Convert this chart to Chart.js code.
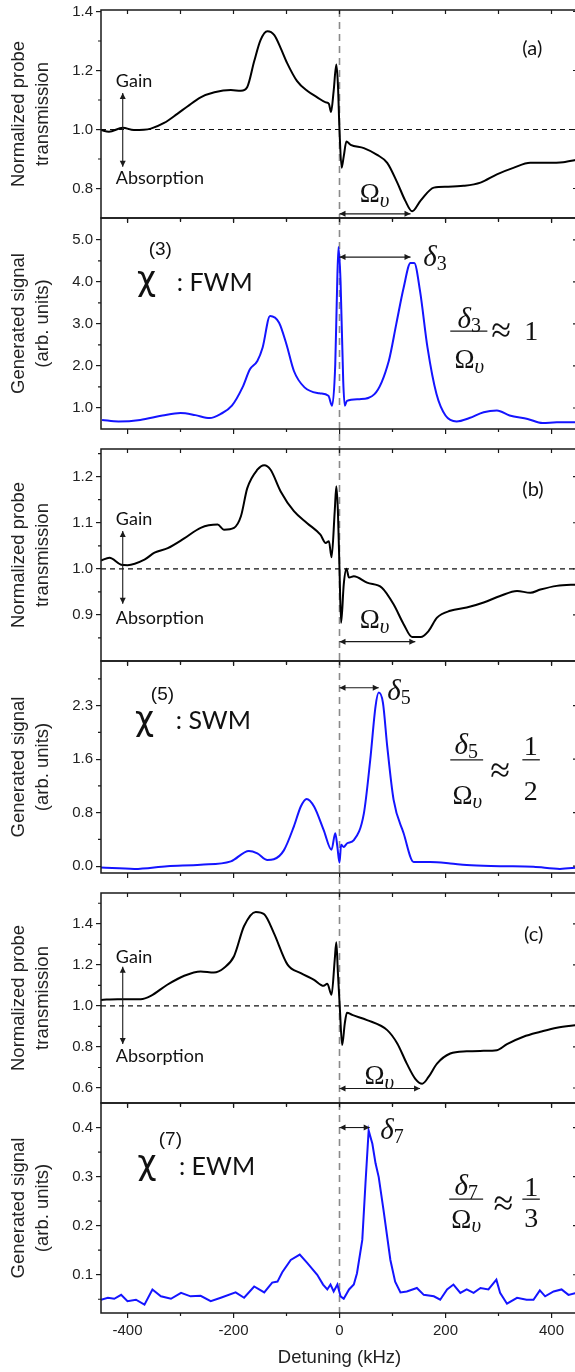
<!DOCTYPE html>
<html><head><meta charset="utf-8">
<script src="https://cdn.jsdelivr.net/npm/chart.js@4.4.1/dist/chart.umd.min.js"></script>
<style>
html,body{margin:0;padding:0;background:#fff;overflow:hidden;width:575px;height:1372px;position:relative;}
.p{position:absolute;left:0;width:580px;}
</style></head><body>
<div class="p" style="top:0px;height:228px"><canvas id="cA"></canvas></div>
<div class="p" style="top:208px;height:241px"><canvas id="cF"></canvas></div>
<div class="p" style="top:439px;height:232px"><canvas id="cB"></canvas></div>
<div class="p" style="top:651px;height:242px"><canvas id="cS"></canvas></div>
<div class="p" style="top:883px;height:230px"><canvas id="cC"></canvas></div>
<div class="p" style="top:1093px;height:279px"><canvas id="cE"></canvas></div>
<script>
// ---------------- data ----------------
const xTicks = [-400, -200, 0, 200, 400];
const xMinor = [-300, -100, 100, 300];
const refX = [-450, 450];
const refLevel = 1.0;

const detA = [-450,-435,-409,-388,-356,-331,-306,-287,-262,-236,-205,-186,-174,-161,-149,-136,-123,-111,-99,-80,-61,-42,-26,-20,-16,-11,-6,-3,0,4,8,13,21,46,71,90,109,124,137,153,178,203,234,266,297,328,360,391,422,450];
const transA = [0.998,0.992,1.006,0.998,1.003,1.022,1.053,1.078,1.109,1.126,1.134,1.131,1.144,1.231,1.303,1.333,1.320,1.276,1.226,1.164,1.131,1.109,1.092,1.087,1.059,1.131,1.220,1.153,0.998,0.870,0.909,0.959,0.948,0.937,0.914,0.887,0.820,0.759,0.723,0.759,0.803,0.806,0.809,0.820,0.848,0.870,0.887,0.887,0.889,0.898];

const detF = [-448,-417,-376,-334,-300,-272,-245,-224,-203,-183,-169,-155,-145,-131,-114,-100,-86,-66,-38,-21,-14,-8,-5,-2,2,7,10,14,38,66,93,107,121,134,141,152,166,183,200,221,245,272,297,321,355,383,410,450];
const sigF = [0.716,0.68,0.716,0.82,0.88,0.83,0.76,0.86,1.055,1.49,1.92,2.12,2.44,3.19,3.03,2.51,1.88,1.49,1.35,1.29,1.055,2.04,3.62,4.83,4.01,1.65,1.055,1.17,1.21,1.33,2.12,2.99,3.86,4.45,4.45,3.78,2.44,1.33,0.82,0.68,0.76,0.90,0.94,0.82,0.74,0.64,0.66,0.66];

const detB = [-450,-434,-412,-400,-368,-349,-324,-293,-262,-230,-218,-199,-186,-174,-155,-142,-130,-111,-86,-61,-36,-26,-20,-15,-9,-6,-3,0,3,8,13,18,27,52,80,102,121,137,153,168,184,209,240,272,303,335,360,379,410,450];
const transB = [1.018,1.024,1.009,1.008,1.020,1.035,1.045,1.066,1.089,1.096,1.085,1.089,1.114,1.175,1.215,1.225,1.215,1.168,1.125,1.099,1.074,1.056,1.060,1.025,1.125,1.179,1.125,0.999,0.883,0.966,1.0,0.981,0.984,0.970,0.959,0.923,0.880,0.852,0.852,0.865,0.894,0.909,0.916,0.927,0.941,0.952,0.948,0.955,0.963,0.966];

const detS = [-450,-387,-325,-262,-205,-171,-155,-136,-124,-105,-86,-73,-62,-48,-30,-15,-8,-4,0,3,8,14,27,46,58,68,74,82,90,102,121,140,171,209,240,303,366,416,450];
const sigS = [-0.02,-0.04,0,0.02,0.07,0.22,0.185,0.09,0.10,0.23,0.58,0.87,0.98,0.87,0.53,0.24,0.48,0.28,0.05,0.31,0.28,0.33,0.38,0.77,1.55,2.33,2.53,2.38,1.75,0.97,0.48,0.06,0.06,0.04,0.015,0,-0.01,-0.04,-0.02];

const detC = [-450,-419,-375,-356,-325,-293,-262,-237,-218,-199,-180,-158,-142,-124,-98,-73,-48,-30,-23,-15,-9,-6,-3,0.5,5,10,14,24,52,90,109,127,143,156,168,184,209,240,272,297,316,347,379,410,450];
const transC = [1.029,1.033,1.033,1.049,1.103,1.147,1.168,1.163,1.185,1.242,1.389,1.458,1.446,1.356,1.201,1.160,1.127,1.098,1.108,1.054,1.225,1.310,1.160,0.997,0.809,0.915,0.967,0.956,0.931,0.882,0.817,0.719,0.645,0.621,0.654,0.719,0.768,0.779,0.781,0.784,0.814,0.850,0.874,0.894,0.907];

const detE = [-450,-437,-425,-412,-400,-384,-368,-353,-337,-318,-299,-281,-262,-243,-224,-196,-180,-161,-142,-127,-117,-108,-92,-75,-61,-42,-31,-23,-17,-11,-4,2,8,18,27,33,43,49,55,62,68,74,83,96,105,115,127,146,159,178,190,203,215,228,240,253,266,281,296,303,316,335,353,366,378,388,404,419,432,450];
const sigE = [0.049,0.053,0.051,0.059,0.046,0.049,0.039,0.070,0.056,0.051,0.063,0.056,0.057,0.046,0.053,0.064,0.053,0.076,0.064,0.084,0.086,0.105,0.130,0.141,0.124,0.100,0.080,0.070,0.080,0.066,0.080,0.056,0.051,0.070,0.080,0.103,0.171,0.286,0.394,0.367,0.327,0.299,0.232,0.130,0.086,0.064,0.066,0.073,0.059,0.056,0.049,0.070,0.080,0.063,0.070,0.063,0.073,0.070,0.090,0.063,0.041,0.053,0.049,0.049,0.068,0.056,0.066,0.070,0.059,0.064];

const yTicksA = [0.8, 1.0, 1.2, 1.4],  yMinorA = [0.9, 1.1, 1.3];
const yTicksF = [1, 2, 3, 4, 5],       yMinorF = [1.5, 2.5, 3.5, 4.5];
const yTicksB = [0.9, 1.0, 1.1, 1.2],  yMinorB = [0.85, 0.95, 1.05, 1.15, 1.25];
const yTicksS = [0, 0.78, 1.56, 2.34], yMinorS = [0.39, 1.17, 1.95, 2.73];
const yTicksC = [0.6, 0.8, 1.0, 1.2, 1.4], yMinorC = [0.7, 0.9, 1.1, 1.3, 1.5];
const yTicksE = [0.1, 0.2, 0.3, 0.4],  yMinorE = [0.05, 0.15, 0.25, 0.35];

const titleTrans = ['Normalized probe', 'transmission'];
const titleSig = ['Generated signal', '(arb. units)'];

// ---------------- styles ----------------
const INK = '#1a1a1a';
const BLUE = '#1414ff';
const F_LBL = '18px Lato';
const F_PAN = '20px Lato';
const F_CHI = '33px "DejaVu Sans"';
const F_SUP = '19px "Liberation Sans"';
const F_WM = '25px Lato';
const F_NUM = '28px "Liberation Serif"';
const F_APPROX = '36px "Liberation Serif"';
const OMEGA = [{t:'Ω', f:'27px "Liberation Serif"'}, {t:'υ', f:'italic 21px "Liberation Serif"', dy:6}];
const DELTA = n => [{t:'δ', f:'italic 29px "Liberation Serif"'}, {t:n, f:'20px "Liberation Serif"', dy:6}];

function drawRuns(ctx, px, py, runs, align) {
  let w = 0;
  runs.forEach(r => { ctx.font = r.f; r.w = ctx.measureText(r.t).width; w += r.w; });
  let cx = align === 'center' ? px - w / 2 : (align === 'right' ? px - w : px);
  runs.forEach(r => { ctx.font = r.f; ctx.fillText(r.t, cx, py + (r.dy || 0)); cx += r.w; });
}
function head(ctx, x, y, dx, dy) {
  const L = 6, W = 3;
  ctx.beginPath();
  ctx.moveTo(x, y);
  ctx.lineTo(x - dx * L - dy * W, y - dy * L + dx * W);
  ctx.lineTo(x - dx * L + dy * W, y - dy * L - dx * W);
  ctx.closePath(); ctx.fill();
}

const DECOR = {};
const decorPlugin = {
  id: 'decor',
  beforeDatasetsDraw(chart) {
    const d = DECOR[chart.canvas.id]; if (!d) return;
    const {ctx, chartArea: a} = chart; const x = chart.scales.x;
    const zx = x.getPixelForValue(0);
    ctx.save();
    ctx.strokeStyle = '#8a8a8a'; ctx.lineWidth = 1.6; ctx.setLineDash([7, 5]);
    ctx.beginPath(); ctx.moveTo(zx, a.top); ctx.lineTo(zx, d.ext ? chart.height : a.bottom); ctx.stroke();
    ctx.restore();
  },
  afterDraw(chart) {
    const d = DECOR[chart.canvas.id]; if (!d) return;
    const {ctx, chartArea: a} = chart; const x = chart.scales.x, y = chart.scales.y;
    ctx.save();
    ctx.strokeStyle = INK; ctx.fillStyle = INK; ctx.lineWidth = 1.2; ctx.setLineDash([]);
    ctx.beginPath();
    d.yMinor.forEach(v => { const py = y.getPixelForValue(v); ctx.moveTo(a.left - 3, py); ctx.lineTo(a.left, py); });
    xMinor.forEach(v => { const px = x.getPixelForValue(v); ctx.moveTo(px, a.bottom); ctx.lineTo(px, a.bottom + 3); });
    xTicks.concat(xMinor).forEach(v => { const px = x.getPixelForValue(v); ctx.moveTo(px, a.top); ctx.lineTo(px, a.top + 4); });
    d.yTicks.forEach(v => { const py = y.getPixelForValue(v); ctx.moveTo(a.right - 5, py); ctx.lineTo(a.right, py); });
    d.yMinor.forEach(v => { const py = y.getPixelForValue(v); ctx.moveTo(a.right - 3, py); ctx.lineTo(a.right, py); });
    ctx.stroke();
    ctx.lineWidth = 1.5;
    ctx.strokeRect(a.left, a.top, a.right - a.left, a.bottom - a.top);
    ctx.lineWidth = 1.1;
    (d.harrows || []).forEach(h => {
      const x1 = x.getPixelForValue(h.x1), x2 = x.getPixelForValue(h.x2), py = y.getPixelForValue(h.y);
      ctx.beginPath(); ctx.moveTo(x1, py); ctx.lineTo(x2, py); ctx.stroke();
      head(ctx, x1, py, -1, 0); head(ctx, x2, py, 1, 0);
    });
    (d.varrows || []).forEach(h => {
      const px = x.getPixelForValue(h.x), y1 = y.getPixelForValue(h.y1), y2 = y.getPixelForValue(h.y2);
      ctx.beginPath(); ctx.moveTo(px, y1); ctx.lineTo(px, y2); ctx.stroke();
      head(ctx, px, y1, 0, -1); head(ctx, px, y2, 0, 1);
    });
    (d.bars || []).forEach(h => {
      const x1 = x.getPixelForValue(h.x1), x2 = x.getPixelForValue(h.x2), py = y.getPixelForValue(h.y);
      ctx.lineWidth = 1.3; ctx.beginPath(); ctx.moveTo(x1, py); ctx.lineTo(x2, py); ctx.stroke();
    });
    ctx.textBaseline = 'middle'; ctx.fillStyle = '#111';
    (d.texts || []).forEach(t => drawRuns(ctx, x.getPixelForValue(t.x), y.getPixelForValue(t.y), t.runs, t.align || 'left'));
    ctx.restore();
  }
};

function build(id, p) {
  const datasets = [{
    data: p.xs.map((v, i) => ({x: v, y: p.ys[i]})),
    borderColor: p.color, borderWidth: 2, pointRadius: 0, fill: false,
    cubicInterpolationMode: p.smooth ? 'monotone' : 'default', tension: 0
  }];
  if (p.ref) datasets.push({
    data: refX.map(v => ({x: v, y: refLevel})),
    borderColor: '#111', borderWidth: 1.2, borderDash: [5, 4], pointRadius: 0, fill: false
  });
  DECOR[id] = Object.assign({yTicks: p.yt, yMinor: p.ym, ext: p.ext}, p.decor);
  return new Chart(document.getElementById(id), {
    type: 'line',
    data: {datasets},
    options: {
      responsive: true, maintainAspectRatio: false, animation: false,
      layout: {padding: {top: 10, right: 2, left: 0, bottom: 0}},
      plugins: {legend: {display: false}, tooltip: {enabled: false}},
      scales: {
        x: {
          type: 'linear', min: -450, max: 450,
          afterBuildTicks: s => { s.ticks = xTicks.map(v => ({value: v})); },
          afterFit: s => { s.height = p.bottomH; s.paddingLeft = 0; s.paddingRight = 0; },
          ticks: {display: !!p.last, color: '#222', padding: 4, maxRotation: 0, autoSkip: false,
                  font: {family: '"Liberation Sans"', size: 15}, callback: v => String(v)},
          grid: {display: true, drawOnChartArea: false, drawTicks: true, tickLength: 5, color: INK, lineWidth: 1.2},
          border: {display: false},
          title: {display: !!p.last, text: 'Detuning (kHz)', color: '#222',
                  font: {family: '"Liberation Sans"', size: 18.5, lineHeight: 1.2}, padding: {top: 0, bottom: 3}}
        },
        y: {
          type: 'linear', min: p.ymin, max: p.ymax,
          afterBuildTicks: s => { s.ticks = p.yt.map(v => ({value: v})); },
          afterFit: s => { s.width = 101; s.paddingTop = 0; s.paddingBottom = 0; },
          ticks: {color: '#222', padding: 3, autoSkip: false,
                  font: {family: '"Liberation Sans"', size: 15}, callback: v => Number(v).toFixed(1)},
          grid: {display: true, drawOnChartArea: false, drawTicks: true, tickLength: 5, color: INK, lineWidth: 1.2},
          border: {display: false},
          title: {display: true, text: p.title, color: '#222',
                  font: {family: '"Liberation Sans"', size: 18.5, lineHeight: 1.3}, padding: {top: 7, bottom: 0}}
        }
      }
    },
    plugins: [decorPlugin]
  });
}

build('cA', {xs: detA, ys: transA, color: '#000', smooth: true, ref: true, ymin: 0.7, ymax: 1.405, yt: yTicksA, ym: yMinorA,
  title: titleTrans, bottomH: 10, decor: {
    texts: [
      {x: -422, y: 1.164, runs: [{t: 'Gain', f: F_LBL}]},
      {x: -422, y: 0.836, runs: [{t: 'Absorption', f: F_LBL}]},
      {x: 345, y: 1.274, runs: [{t: '(a)', f: F_PAN}]},
      {x: 66, y: 0.778, runs: OMEGA, align: 'center'}
    ],
    varrows: [{x: -409, y1: 1.124, y2: 0.874}],
    harrows: [{x1: 0, x2: 134, y: 0.714}]
  }});

build('cF', {xs: detF, ys: sigF, color: BLUE, smooth: true, ymin: 0.5, ymax: 5.52, yt: yTicksF, ym: yMinorF,
  title: titleSig, bottomH: 20, ext: true, decor: {
    texts: [
      {x: -382, y: 4.02, runs: [{t: 'χ', f: F_CHI}]},
      {x: -360, y: 4.76, runs: [{t: '(3)', f: F_SUP}]},
      {x: -307, y: 3.98, runs: [{t: ': FWM', f: F_WM}]},
      {x: 158, y: 4.55, runs: DELTA('3')},
      {x: 245, y: 3.08, runs: DELTA('3'), align: 'center'},
      {x: 245, y: 2.11, runs: OMEGA, align: 'center'},
      {x: 305, y: 2.80, runs: [{t: '≈', f: F_APPROX}], align: 'center'},
      {x: 362, y: 2.80, runs: [{t: '1', f: F_NUM}], align: 'center'}
    ],
    harrows: [{x1: 0, x2: 134, y: 4.59}],
    bars: [{x1: 209, x2: 279, y: 2.83}]
  }});

build('cB', {xs: detB, ys: transB, color: '#000', smooth: true, ref: true, ymin: 0.8, ymax: 1.26, yt: yTicksB, ym: yMinorB,
  title: titleTrans, bottomH: 10, decor: {
    texts: [
      {x: -422, y: 1.108, runs: [{t: 'Gain', f: F_LBL}]},
      {x: -422, y: 0.892, runs: [{t: 'Absorption', f: F_LBL}]},
      {x: 345, y: 1.173, runs: [{t: '(b)', f: F_PAN}]},
      {x: 66, y: 0.886, runs: OMEGA, align: 'center'}
    ],
    varrows: [{x: -409, y1: 1.082, y2: 0.924}],
    harrows: [{x1: 0, x2: 143, y: 0.842}]
  }});

build('cS', {xs: detS, ys: sigS, color: BLUE, smooth: true, ymin: -0.1, ymax: 2.99, yt: yTicksS, ym: yMinorS,
  title: titleSig, bottomH: 20, ext: true, decor: {
    texts: [
      {x: -386, y: 2.11, runs: [{t: 'χ', f: F_CHI}]},
      {x: -356, y: 2.50, runs: [{t: '(5)', f: F_SUP}]},
      {x: -309, y: 2.11, runs: [{t: ': SWM', f: F_WM}]},
      {x: 90, y: 2.53, runs: DELTA('5')},
      {x: 239, y: 1.74, runs: DELTA('5'), align: 'center'},
      {x: 241, y: 1.01, runs: OMEGA, align: 'center'},
      {x: 303, y: 1.36, runs: [{t: '≈', f: F_APPROX}], align: 'center'},
      {x: 361, y: 1.73, runs: [{t: '1', f: F_NUM}], align: 'center'},
      {x: 361, y: 1.07, runs: [{t: '2', f: F_NUM}], align: 'center'}
    ],
    harrows: [{x1: 0, x2: 74, y: 2.60}],
    bars: [{x1: 209, x2: 271, y: 1.55}, {x1: 345, x2: 378, y: 1.55}]
  }});

build('cC', {xs: detC, ys: transC, color: '#000', smooth: true, ref: true, ymin: 0.527, ymax: 1.55, yt: yTicksC, ym: yMinorC,
  title: titleTrans, bottomH: 10, decor: {
    texts: [
      {x: -422, y: 1.235, runs: [{t: 'Gain', f: F_LBL}]},
      {x: -422, y: 0.755, runs: [{t: 'Absorption', f: F_LBL}]},
      {x: 348, y: 1.348, runs: [{t: '(c)', f: F_PAN}]},
      {x: 75, y: 0.652, runs: OMEGA, align: 'center'}
    ],
    varrows: [{x: -409, y1: 1.191, y2: 0.814}],
    harrows: [{x1: 0, x2: 152, y: 0.598}]
  }});

build('cE', {xs: detE, ys: sigE, color: BLUE, smooth: false, ymin: 0.022, ymax: 0.45, yt: yTicksE, ym: yMinorE,
  title: titleSig, bottomH: 59, last: true, decor: {
    texts: [
      {x: -381, y: 0.322, runs: [{t: 'χ', f: F_CHI}]},
      {x: -341, y: 0.376, runs: [{t: '(7)', f: F_SUP}]},
      {x: -303, y: 0.319, runs: [{t: ': EWM', f: F_WM}]},
      {x: 77, y: 0.392, runs: DELTA('7')},
      {x: 239, y: 0.278, runs: DELTA('7'), align: 'center'},
      {x: 239, y: 0.210, runs: OMEGA, align: 'center'},
      {x: 309, y: 0.242, runs: [{t: '≈', f: F_APPROX}], align: 'center'},
      {x: 362, y: 0.276, runs: [{t: '1', f: F_NUM}], align: 'center'},
      {x: 362, y: 0.212, runs: [{t: '3', f: F_NUM}], align: 'center'}
    ],
    harrows: [{x1: 0, x2: 57, y: 0.40}],
    bars: [{x1: 207, x2: 271, y: 0.254}, {x1: 345, x2: 378, y: 0.254}]
  }});
</script>
</body></html>
